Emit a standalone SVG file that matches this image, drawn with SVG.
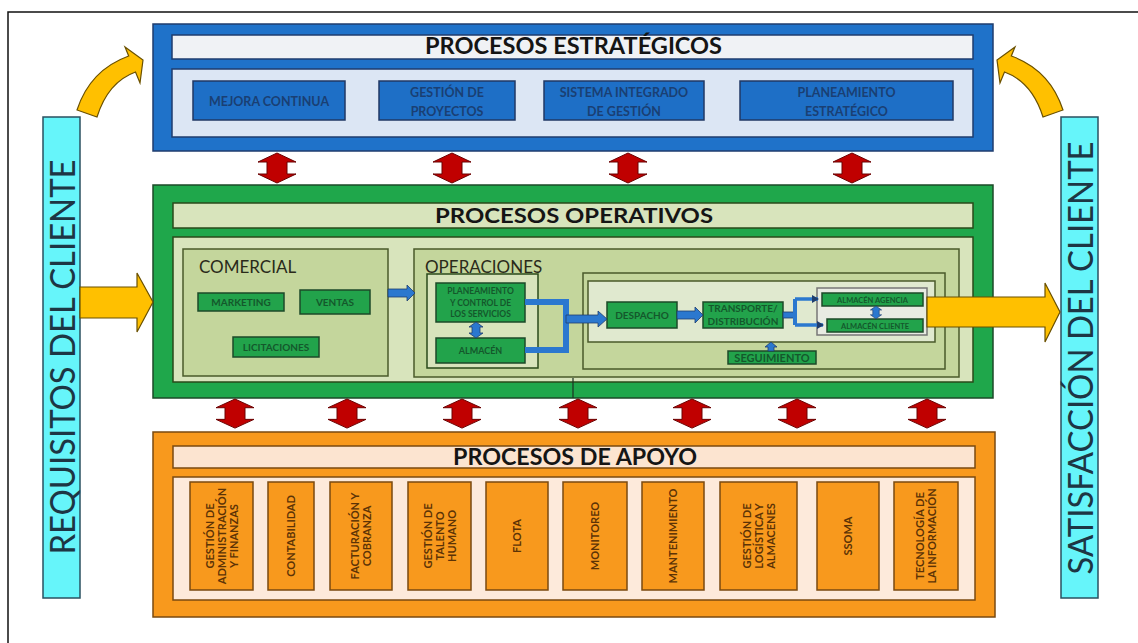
<svg xmlns="http://www.w3.org/2000/svg" width="1138" height="643" viewBox="0 0 1138 643">
<defs>
<style>
text{font-family:Lato,"Open Sans","Liberation Sans",sans-serif}
.frame{fill:none;stroke:#111;stroke-width:1.5}
.bOuter{fill:#1f72c9;stroke:#1f3d6e;stroke-width:1.5}
.bBar{fill:#f0f2f5;stroke:#1f3d6e;stroke-width:1.5}
.bPanel{fill:#dce6f4;stroke:#1f3d6e;stroke-width:1.5}
.bNode{fill:#1e6fc6;stroke:#203864;stroke-width:1.5}
.bTxt{font-size:12.5px;font-weight:700;fill:#1a3f73;text-anchor:middle}
.gOuter{fill:#1fa74b;stroke:#1c4a28;stroke-width:1.5}
.gBar{fill:#d8e4bc;stroke:#2a4a1a;stroke-width:1.5}
.gBox{fill:#c4d69c;stroke:#4a5a2a;stroke-width:1.5}
.gLight{fill:#e0e9cf;stroke:#4a5a2a;stroke-width:1.5}
.gNode{fill:#22a34b;stroke:#1c4a28;stroke-width:1.5}
.gTxt{font-weight:700;fill:#14582b;text-anchor:middle}
.oOuter{fill:#f8991d;stroke:#7a4a10;stroke-width:1.5}
.oBar{fill:#fce4d0;stroke:#7a4a10;stroke-width:1.5}
.oPanel{fill:#fdeadb;stroke:#7a4a10;stroke-width:1.5}
.oNode{fill:#f8991d;stroke:#7a4a10;stroke-width:1.5}
.oTxt{font-size:11px;font-weight:700;fill:#5c3306;text-anchor:middle}
.title{font-weight:700;fill:#151515;text-anchor:middle}
.sec{font-size:17px;fill:#2a2a1a}
.cyan{fill:#66f5fa;stroke:#2a5060;stroke-width:1.5}
.cyTxt{font-size:34px;fill:#1d3644;text-anchor:middle}
.red{fill:#c00000;stroke:#6a0000;stroke-width:1}
.yel{fill:#ffc000;stroke:#6a5000;stroke-width:1.2}
.blu{fill:#2b78cf;stroke:#1f3d6e;stroke-width:0.8}
.bline{fill:none;stroke:#2b78cf}
</style>
<path id="rdbl" d="M0 0 L19 9 L10 9 L10 21 L19 21 L0 30 L-19 21 L-10 21 L-10 9 L-19 9 Z"/>
<path id="sdbl" d="M0 0 L7 5 L4 5 L4 11 L7 11 L0 16 L-7 11 L-4 11 L-4 5 L-7 5 Z"/>
<marker id="ah" markerWidth="8" markerHeight="8" refX="6" refY="4" orient="auto" markerUnits="userSpaceOnUse">
<path d="M0 0 L7 4 L0 8 Z" fill="#1f3d6e"/>
</marker>
</defs>
<rect width="1138" height="643" fill="#ffffff"/>
<path class="frame" d="M8 643 V12 H1138"/>

<g id="requisitos">
<rect class="cyan" x="43" y="117" width="37" height="481"/>
<text class="cyTxt" transform="translate(75,357) rotate(-90)" textLength="395" lengthAdjust="spacingAndGlyphs">REQUISITOS DEL CLIENTE</text>
</g>
<g id="satisfaccion">
<rect class="cyan" x="1061" y="117" width="37" height="481"/>
<text class="cyTxt" transform="translate(1093,358) rotate(-90)" textLength="433" lengthAdjust="spacingAndGlyphs">SATISFACCIÓN DEL CLIENTE</text>
</g>

<g id="estrategicos">
<rect class="bOuter" x="153" y="24" width="840" height="127"/>
<rect class="bBar" x="172" y="35" width="801" height="24"/>
<text class="title" x="573.5" y="54" font-size="22" textLength="297" lengthAdjust="spacingAndGlyphs">PROCESOS ESTRATÉGICOS</text>
<rect class="bPanel" x="172" y="69" width="801" height="68"/>
<g id="mejora"><rect class="bNode" x="193" y="81" width="152" height="39"/><text class="bTxt" x="269" y="106">MEJORA CONTINUA</text></g>
<g id="proyectos"><rect class="bNode" x="379" y="81" width="136" height="39"/><text class="bTxt" x="447" y="97">GESTIÓN DE</text><text class="bTxt" x="447" y="115.5">PROYECTOS</text></g>
<g id="sig"><rect class="bNode" x="544" y="81" width="160" height="39"/><text class="bTxt" x="624" y="97">SISTEMA INTEGRADO</text><text class="bTxt" x="624" y="115.5">DE GESTIÓN</text></g>
<g id="planeamiento-est"><rect class="bNode" x="740" y="81" width="213" height="39"/><text class="bTxt" x="846.5" y="97">PLANEAMIENTO</text><text class="bTxt" x="846.5" y="115.5">ESTRATÉGICO</text></g>
</g>

<g id="operativos">
<rect class="gOuter" x="153" y="185" width="840" height="213"/>
<rect class="gBar" x="173" y="203" width="800" height="25"/>
<text class="title" x="574" y="223" font-size="21" textLength="278" lengthAdjust="spacingAndGlyphs">PROCESOS  OPERATIVOS</text>
<rect class="gBar" x="173" y="237" width="800" height="145"/>
<g id="comercial">
<rect class="gBox" x="183" y="249" width="205" height="127"/>
<text class="sec" x="199" y="273">COMERCIAL</text>
<g id="marketing"><rect class="gNode" x="198" y="293" width="86" height="18"/><text class="gTxt" x="241" y="306" font-size="10">MARKETING</text></g>
<g id="ventas"><rect class="gNode" x="300" y="290" width="70" height="24"/><text class="gTxt" x="335" y="306" font-size="10">VENTAS</text></g>
<g id="licitaciones"><rect class="gNode" x="233" y="337" width="86" height="20"/><text class="gTxt" x="276" y="351" font-size="10">LICITACIONES</text></g>
</g>
<g id="operaciones">
<rect class="gBox" x="414" y="249" width="545" height="128"/>
<text class="sec" x="425" y="273">OPERACIONES</text>
<rect class="gBar" x="427" y="274" width="111" height="94"/>
<g id="planeamiento-ctrl"><rect class="gNode" x="436" y="283" width="89" height="39"/>
<text class="gTxt" x="480.5" y="294" font-size="8.5">PLANEAMIENTO</text><text class="gTxt" x="480.5" y="305.5" font-size="8.5">Y CONTROL DE</text><text class="gTxt" x="480.5" y="317" font-size="8.5">LOS SERVICIOS</text></g>
<g id="almacen"><rect class="gNode" x="436" y="338" width="89" height="25"/><text class="gTxt" x="480.5" y="354" font-size="9">ALMACÉN</text></g>
<rect class="gBox" x="583" y="273" width="362" height="96"/>
<rect class="gLight" x="588" y="281" width="347" height="61"/>
<g id="despacho"><rect class="gNode" x="607" y="302" width="70" height="26"/><text class="gTxt" x="642" y="319" font-size="10">DESPACHO</text></g>
<g id="transporte"><rect class="gNode" x="703" y="302" width="80" height="26"/><text class="gTxt" x="743" y="312" font-size="10">TRANSPORTE/</text><text class="gTxt" x="743" y="325" font-size="10">DISTRIBUCIÓN</text></g>
<rect x="817" y="288" width="110" height="47" fill="#e8ebe2" stroke="#777" stroke-width="1.5"/>
<g id="almacen-agencia"><rect class="gNode" x="822" y="293" width="101" height="13"/><text class="gTxt" x="872.5" y="303" font-size="7.5">ALMACÉN AGENCIA</text></g>
<g id="almacen-cliente"><rect class="gNode" x="827" y="319" width="96" height="13"/><text class="gTxt" x="875" y="329" font-size="7.5">ALMACÉN CLIENTE</text></g>
<g id="seguimiento"><rect class="gNode" x="728" y="351" width="88" height="13"/><text class="gTxt" x="772" y="362" font-size="11">SEGUIMIENTO</text></g>
</g>
</g>

<g id="apoyo">
<rect class="oOuter" x="153" y="432" width="842" height="185"/>
<rect class="oBar" x="173" y="446" width="802" height="22"/>
<text class="title" x="575" y="465" font-size="22" textLength="244" lengthAdjust="spacingAndGlyphs">PROCESOS DE APOYO</text>
<rect class="oPanel" x="173" y="477" width="802" height="123"/>
<g id="ap1"><rect class="oNode" x="190" y="482" width="63" height="108"/><text class="oTxt" transform="translate(221.5,536) rotate(-90)"><tspan x="0" y="-8">GESTIÓN DE</tspan><tspan x="0" y="4">ADMINISTRACIÓN</tspan><tspan x="0" y="16">Y FINANZAS</tspan></text></g>
<g id="ap2"><rect class="oNode" x="268" y="482" width="46" height="108"/><text class="oTxt" transform="translate(291,536) rotate(-90)"><tspan x="0" y="4">CONTABILIDAD</tspan></text></g>
<g id="ap3"><rect class="oNode" x="330" y="482" width="62" height="108"/><text class="oTxt" transform="translate(361,536) rotate(-90)"><tspan x="0" y="-2">FACTURACIÓN Y</tspan><tspan x="0" y="10">COBRANZA</tspan></text></g>
<g id="ap4"><rect class="oNode" x="408" y="482" width="63" height="108"/><text class="oTxt" transform="translate(439.5,536) rotate(-90)"><tspan x="0" y="-8">GESTIÓN DE</tspan><tspan x="0" y="4">TALENTO</tspan><tspan x="0" y="16">HUMANO</tspan></text></g>
<g id="ap5"><rect class="oNode" x="486" y="482" width="62" height="108"/><text class="oTxt" transform="translate(517,536) rotate(-90)"><tspan x="0" y="4">FLOTA</tspan></text></g>
<g id="ap6"><rect class="oNode" x="563" y="482" width="64" height="108"/><text class="oTxt" transform="translate(595,536) rotate(-90)"><tspan x="0" y="4">MONITOREO</tspan></text></g>
<g id="ap7"><rect class="oNode" x="642" y="482" width="62" height="108"/><text class="oTxt" transform="translate(673,536) rotate(-90)"><tspan x="0" y="4">MANTENIMIENTO</tspan></text></g>
<g id="ap8"><rect class="oNode" x="720" y="482" width="77" height="108"/><text class="oTxt" transform="translate(758.5,536) rotate(-90)"><tspan x="0" y="-8">GESTIÓN DE</tspan><tspan x="0" y="4">LOGÍSTICA Y</tspan><tspan x="0" y="16">ALMACENES</tspan></text></g>
<g id="ap9"><rect class="oNode" x="817" y="482" width="62" height="108"/><text class="oTxt" transform="translate(848,536) rotate(-90)"><tspan x="0" y="4">SSOMA</tspan></text></g>
<g id="ap10"><rect class="oNode" x="894" y="482" width="64" height="108"/><text class="oTxt" transform="translate(926,536) rotate(-90)"><tspan x="0" y="-2">TECNOLOGÍA DE</tspan><tspan x="0" y="10">LA INFORMACIÓN</tspan></text></g>
</g>

<g id="connectors">
<use href="#rdbl" class="red" transform="translate(277,153)"/>
<use href="#rdbl" class="red" transform="translate(452,153)"/>
<use href="#rdbl" class="red" transform="translate(628,153)"/>
<use href="#rdbl" class="red" transform="translate(852,153)"/>
<use href="#rdbl" class="red" transform="translate(235,399) scale(1,0.97)"/>
<use href="#rdbl" class="red" transform="translate(347,399) scale(1,0.97)"/>
<use href="#rdbl" class="red" transform="translate(462,399) scale(1,0.97)"/>
<use href="#rdbl" class="red" transform="translate(578,399) scale(1,0.97)"/>
<use href="#rdbl" class="red" transform="translate(692,399) scale(1,0.97)"/>
<use href="#rdbl" class="red" transform="translate(797,399) scale(1,0.97)"/>
<use href="#rdbl" class="red" transform="translate(927,399) scale(1,0.97)"/>
<line x1="573" y1="378" x2="573" y2="398" stroke="#1c3020" stroke-width="1.2"/>
<path class="yel" d="M77 110 Q90 70 128.7 56 L125 47 L143 60 L140 83 L135.5 72 Q108 82 97 117 Z"/>
<path class="yel" transform="translate(1140,0) scale(-1,1)" d="M77 110 Q90 70 128.7 56 L125 47 L143 60 L140 83 L135.5 72 Q108 82 97 117 Z"/>
<polygon class="yel" points="80,287 137,287 137,273 153,302 137,332 137,318 80,318"/>
<polygon class="yel" points="927,297 1045,297 1045,283 1060,312 1045,342 1045,327 927,327"/>
<polygon class="blu" points="388,289 407,289 407,285 415,293 407,301 407,297 388,297"/>
<path class="bline" stroke-width="6" d="M525 302 H566 V350 H525"/>
<polygon class="blu" points="566,315 598,315 598,311 607,319 598,327 598,323 566,323"/>
<polygon class="blu" points="677,311 695,311 695,307 703,315 695,323 695,319 677,319"/>
<rect class="blu" x="783" y="312" width="13" height="6"/>
<path class="bline" stroke-width="4" d="M795 299 V325"/>
<path class="bline" stroke-width="3.5" d="M795 299 H818" marker-end="url(#ah)"/>
<path class="bline" stroke-width="3.5" d="M795 325 H823" marker-end="url(#ah)"/>
<use href="#sdbl" class="blu" transform="translate(476,322)"/>
<use href="#sdbl" class="blu" transform="translate(876,306) scale(0.8,0.8)"/>
<path class="blu" d="M771 342 L777 347 L774 347 L774 351 L768 351 L768 347 L765 347 Z"/>
</g>
</svg>
